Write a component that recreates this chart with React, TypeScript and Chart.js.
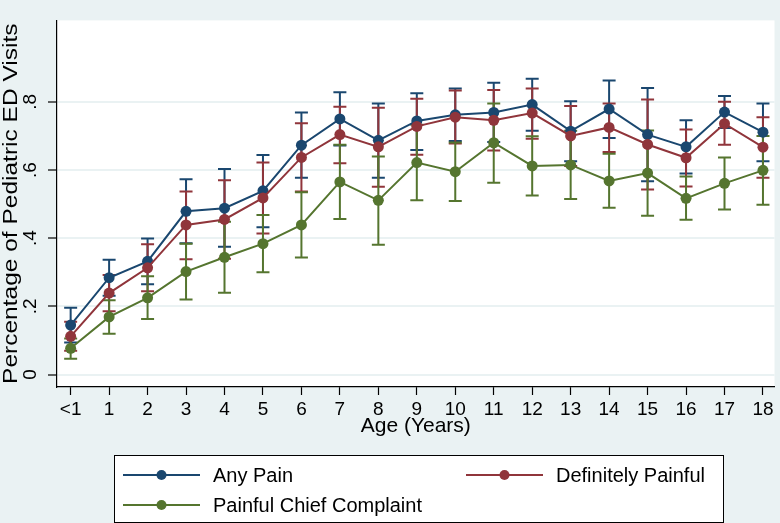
import React, { useEffect, useRef } from "react";
import { Chart, registerables } from "chart.js";

Chart.register(...registerables);

// ---- data ----
const ages = [0, 1, 2, 3, 4, 5, 6, 7, 8, 9, 10, 11, 12, 13, 14, 15, 16, 17, 18];
const ageLabels = ["<1", "1", "2", "3", "4", "5", "6", "7", "8", "9", "10", "11", "12", "13", "14", "15", "16", "17", "18"];

const anyPain = [0.145, 0.284, 0.332, 0.479, 0.488, 0.539, 0.673, 0.750, 0.687, 0.744, 0.762, 0.769, 0.792, 0.714, 0.779, 0.704, 0.668, 0.770, 0.711];
const anyPainLow = [0.094, 0.231, 0.265, 0.385, 0.375, 0.432, 0.577, 0.672, 0.577, 0.659, 0.685, 0.682, 0.715, 0.626, 0.694, 0.567, 0.590, 0.723, 0.626];
const anyPainHigh = [0.196, 0.337, 0.399, 0.573, 0.603, 0.644, 0.769, 0.828, 0.795, 0.825, 0.839, 0.856, 0.868, 0.802, 0.863, 0.841, 0.746, 0.817, 0.795];

const defPainful = [0.112, 0.239, 0.313, 0.439, 0.455, 0.518, 0.637, 0.704, 0.668, 0.728, 0.755, 0.746, 0.767, 0.700, 0.725, 0.675, 0.636, 0.736, 0.667];
const defPainfulLow = [0.070, 0.186, 0.244, 0.338, 0.340, 0.414, 0.537, 0.620, 0.551, 0.645, 0.678, 0.657, 0.692, 0.612, 0.653, 0.543, 0.552, 0.674, 0.577];
const defPainfulHigh = [0.155, 0.292, 0.382, 0.537, 0.570, 0.622, 0.737, 0.786, 0.783, 0.809, 0.833, 0.835, 0.839, 0.788, 0.795, 0.807, 0.719, 0.800, 0.755];

const chiefComplaint = [0.077, 0.169, 0.225, 0.302, 0.344, 0.384, 0.439, 0.565, 0.511, 0.622, 0.595, 0.680, 0.612, 0.615, 0.568, 0.591, 0.517, 0.561, 0.599];
const chiefComplaintLow = [0.046, 0.120, 0.163, 0.220, 0.240, 0.300, 0.343, 0.456, 0.381, 0.511, 0.509, 0.563, 0.525, 0.515, 0.489, 0.466, 0.454, 0.484, 0.498];
const chiefComplaintHigh = [0.106, 0.218, 0.288, 0.384, 0.448, 0.468, 0.535, 0.674, 0.640, 0.733, 0.681, 0.795, 0.699, 0.715, 0.648, 0.716, 0.581, 0.637, 0.700];

const seriesNames = ["Any Pain", "Definitely Painful", "Painful Chief Complaint"];
const yTickValues = [0, 0.2, 0.4, 0.6, 0.8];
const yTickLabels = ["0", ".2", ".4", ".6", ".8"];
const xTitle = "Age (Years)";
const yTitle = "Percentage of Pediatric ED Visits";

// ---- styles ----
const COLORS = ["#1A476F", "#90353B", "#55752F"];
const BG = "#EAF2F3";
const FONT = "'Liberation Sans', Arial, Helvetica, sans-serif";

const lows = [anyPainLow, defPainfulLow, chiefComplaintLow];
const highs = [anyPainHigh, defPainfulHigh, chiefComplaintHigh];

const bgPlugin = {
  id: "stataBg",
  beforeDraw(chart: any) {
    const { ctx, chartArea, width, height } = chart;
    ctx.save();
    ctx.fillStyle = BG;
    ctx.fillRect(0, 0, width, height);
    ctx.fillStyle = "#ffffff";
    ctx.fillRect(chartArea.left, chartArea.top, chartArea.right - chartArea.left, chartArea.bottom - chartArea.top);
    ctx.restore();
  },
};

const errorBarPlugin = {
  id: "errorBars",
  beforeDatasetsDraw(chart: any) {
    const { ctx } = chart;
    const xs = chart.scales.x;
    const ys = chart.scales.y;
    ctx.save();
    ctx.lineWidth = 2;
    for (let s = 0; s < lows.length; s++) {
      ctx.strokeStyle = COLORS[s];
      for (let i = 0; i < ages.length; i++) {
        const px = xs.getPixelForValue(ages[i]);
        const pl = ys.getPixelForValue(lows[s][i]);
        const ph = ys.getPixelForValue(highs[s][i]);
        const cap = 6.5;
        ctx.beginPath();
        ctx.moveTo(px, pl);
        ctx.lineTo(px, ph);
        ctx.moveTo(px - cap, pl);
        ctx.lineTo(px + cap, pl);
        ctx.moveTo(px - cap, ph);
        ctx.lineTo(px + cap, ph);
        ctx.stroke();
      }
    }
    ctx.restore();
  },
};

const yTitlePlugin = {
  id: "yTitle",
  afterDraw(chart: any) {
    const { ctx, chartArea } = chart;
    ctx.save();
    ctx.translate(17, (chartArea.top + chartArea.bottom) / 2);
    ctx.rotate(-Math.PI / 2);
    ctx.scale(1, 0.85);
    ctx.font = `24.5px ${FONT}`;
    ctx.fillStyle = "#000";
    ctx.textAlign = "center";
    ctx.textBaseline = "alphabetic";
    ctx.fillText(yTitle, 0, 0);
    ctx.restore();
  },
};

const legendPlugin = {
  id: "stataLegend",
  afterDraw(chart: any) {
    const { ctx } = chart;
    ctx.save();
    const bx = 114, by = 455, bw = 609, bh = 67;
    ctx.fillStyle = "#ffffff";
    ctx.fillRect(bx, by, bw, bh);
    ctx.strokeStyle = "#000000";
    ctx.lineWidth = 1;
    ctx.strokeRect(bx + 0.5, by + 0.5, bw, bh);
    const slots = [
      { x: 123, y: 475 },
      { x: 466, y: 475 },
      { x: 123, y: 505 },
    ];
    chart.data.datasets.forEach((ds: any, i: number) => {
      const s = slots[i];
      ctx.strokeStyle = ds.borderColor;
      ctx.lineWidth = 2;
      ctx.beginPath();
      ctx.moveTo(s.x, s.y);
      ctx.lineTo(s.x + 77, s.y);
      ctx.stroke();
      ctx.fillStyle = ds.backgroundColor;
      ctx.beginPath();
      ctx.arc(s.x + 38.5, s.y, 5, 0, Math.PI * 2);
      ctx.fill();
      ctx.fillStyle = "#000000";
      ctx.font = `20px ${FONT}`;
      ctx.textBaseline = "middle";
      ctx.textAlign = "left";
      ctx.fillText(ds.label, s.x + 90, s.y + 1);
    });
    ctx.restore();
  },
};

export default function App() {
  const canvasRef = useRef<HTMLCanvasElement | null>(null);

  useEffect(() => {
    if (!canvasRef.current) return;
    const seriesValues = [anyPain, defPainful, chiefComplaint];
    const chart = new Chart(canvasRef.current, {
      type: "line",
      data: {
        datasets: seriesValues.map((vals, s) => ({
          label: seriesNames[s],
          data: ages.map((a, i) => ({ x: a, y: vals[i] })),
          borderColor: COLORS[s],
          backgroundColor: COLORS[s],
          pointBackgroundColor: COLORS[s],
          pointBorderColor: COLORS[s],
          pointRadius: 5.5,
          pointBorderWidth: 0,
          borderWidth: 2,
          tension: 0,
          order: 3 - s,
        })),
      },
      options: {
        animation: false,
        responsive: false,
        maintainAspectRatio: false,
        layout: { padding: { top: 5, right: 2, left: 0, bottom: 0 } },
        plugins: {
          legend: { display: false },
          tooltip: { enabled: false },
        },
        scales: {
          x: {
            type: "linear",
            min: -0.355,
            max: 18.3,
            afterBuildTicks: (scale: any) => {
              scale.ticks = ages.map((v) => ({ value: v }));
            },
            afterFit: (scale: any) => {
              scale.height = 136;
            },
            ticks: {
              color: "#000",
              font: { family: FONT, size: 19 },
              padding: 3,
              maxRotation: 0,
              minRotation: 0,
              autoSkip: false,
              callback: (value: any) => ageLabels[ages.indexOf(Number(value))],
            },
            grid: {
              drawOnChartArea: false,
              drawTicks: true,
              tickLength: 8,
              tickColor: "#000",
              tickWidth: 1.2,
            },
            border: { color: "#000", width: 1.2 },
            title: {
              display: true,
              text: xTitle,
              color: "#000",
              font: { family: FONT, size: 21 },
              padding: { top: 0, bottom: 84 },
            },
          },
          y: {
            type: "linear",
            min: -0.0366,
            max: 1.039,
            afterBuildTicks: (scale: any) => {
              scale.ticks = yTickValues.map((v) => ({ value: v }));
            },
            afterFit: (scale: any) => {
              scale.width = 57;
            },
            ticks: {
              color: "#000",
              font: { family: FONT, size: 19 },
              padding: 9,
              minRotation: 90,
              maxRotation: 90,
              crossAlign: "center",
              autoSkip: false,
              callback: (value: any) => yTickLabels[yTickValues.indexOf(Number(value))],
            },
            grid: {
              drawOnChartArea: true,
              color: BG,
              lineWidth: 2,
              drawTicks: true,
              tickLength: 9,
              tickColor: "#000",
              tickWidth: 1.2,
            },
            border: { color: "#000", width: 1.2 },
            title: { display: false },
          },
        },
      },
      plugins: [bgPlugin, errorBarPlugin, legendPlugin, yTitlePlugin],
    } as any);
    return () => chart.destroy();
  }, []);

  return (
    <div style={{ position: "fixed", left: 0, top: 0, width: 780, height: 523, background: BG }}>
      <canvas ref={canvasRef} width={780} height={523} style={{ display: "block", width: 780, height: 523 }} />
    </div>
  );
}
